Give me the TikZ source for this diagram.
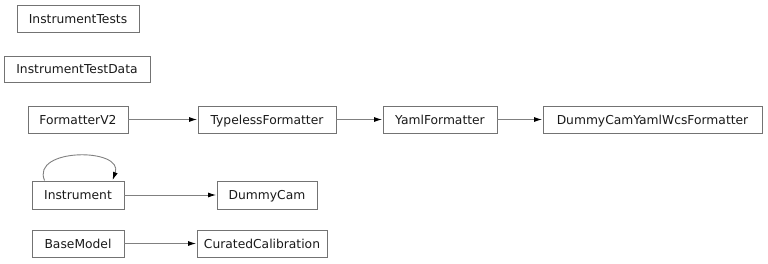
\documentclass[tikz,border=0pt]{standalone}
\usepackage{fontspec}
\setmainfont{DejaVu Sans}
\usetikzlibrary{arrows.meta}
\begin{document}
\begin{tikzpicture}[x=1pt,y=-1pt,
  cls/.style={draw=black!55,line width=0.9pt,inner sep=0pt,minimum height=27pt,font=\fontsize{12.3}{14}\selectfont,text=black!90,text height=9pt,text depth=0pt},
  inh/.style={draw=black!50,line width=0.9pt,-{Latex[length=8pt,width=5pt,color=black]},shorten >=0.5pt}]
\useasboundingbox (0,0) rectangle (768,263);
\node[cls,minimum width=122pt] (it) at (78,18.5) {InstrumentTests};
\node[cls,minimum width=146pt,minimum height=26pt] (itd) at (77,69) {InstrumentTestData};
\node[cls,minimum width=100pt] (f2) at (78,119.5) {FormatterV2};
\node[cls,minimum width=138pt] (tf) at (267,119.5) {TypelessFormatter};
\node[cls,minimum width=114pt] (yf) at (440,119.5) {YamlFormatter};
\node[cls,minimum width=219pt] (dy) at (652.5,119.5) {DummyCamYamlWcsFormatter};
\node[cls,minimum width=92pt,minimum height=28pt] (ins) at (78,195) {Instrument};
\node[cls,minimum width=100pt,minimum height=28pt] (dc) at (267,195) {DummyCam};
\node[cls,minimum width=92pt] (bm) at (78,243.5) {BaseModel};
\node[cls,minimum width=130pt] (cc) at (262,243.5) {CuratedCalibration};
\draw[inh] (f2) -- (tf);
\draw[inh] (tf) -- (yf);
\draw[inh] (yf) -- (dy);
\draw[inh] (ins) -- (dc);
\draw[inh] (bm) -- (cc);
\draw[inh] ([xshift=13pt]ins.north west) .. controls +(-14,-33) and +(12,-33) .. ([xshift=-12pt]ins.north east);
\end{tikzpicture}
\end{document}
